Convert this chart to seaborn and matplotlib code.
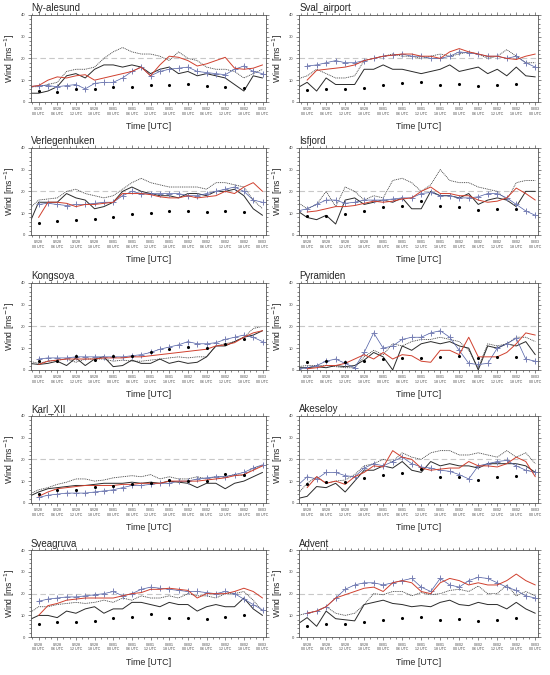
import numpy as np
import matplotlib
matplotlib.use("Agg")
import matplotlib.pyplot as plt
from matplotlib.ticker import MultipleLocator
import seaborn as sns

nan = np.nan

# hours since 02/28 00 UTC
hours = np.arange(-3, 73, 3)
obs_hours = np.arange(0, 67, 6)
tick_hours = np.arange(0, 73, 6)
tick_labels = ['02/28\n00 UTC', '02/28\n06 UTC', '02/28\n12 UTC', '02/28\n18 UTC',
               '03/01\n00 UTC', '03/01\n06 UTC', '03/01\n12 UTC', '03/01\n18 UTC',
               '03/02\n00 UTC', '03/02\n06 UTC', '03/02\n12 UTC', '03/02\n18 UTC',
               '03/03\n00 UTC']

# run1 = black solid, run2 = black dotted, run3 = red, run4 = blue crosses, obs = dots
ny_run1 = [4, 4, 5, 7, 12, 13, 11, 15, 17, 17, 16, 17, 16, 13, 15, 16, 13, 14, 12, 13, 12, 11, 8, 5, 12, 11]
ny_run2 = [7, 7, 8, 9, 14, 15, 15, 16, 20, 23, 25, 23, 22, 22, 21, 19, 23, 20, 19, 16, 15, 15, 14, 11, 13, 15]
ny_run3 = [7, 7.5, 10, 11.5, 11, 12, 12.5, 10, 11, 12, 13, 14, 16, 12, 17, 21, 20.5, 19, 16.5, 17.5, 19, 20.5, 15.5, 15, 15.5, 17]
ny_run4 = [7, 7.5, 7.5, 7, 7.5, 8, 6, 8.5, 9, 9, 11, 14, 16, 12, 14, 15, 15.5, 16, 14, 13.5, 13, 12.5, 15, 16.5, 14, 13]
ny_obs = [4.9, 4.4, 5.9, 5.9, 6.8, 6.8, 7.9, 7.9, 8.2, 7.1, 6.7, 6.4]

sv_run1 = [6.5, 9, 5, 11, 8, 8, 8, 15, 15, 17, 15, 15, 14, 13, 14, 15, 17, 14, 15, 16, 13, 15, 12, 16, 12, 11.5]
sv_run2 = [10.5, 12, 15, 13, 11, 11, 12, 19, 20, 21, 22, 21, 21, 20, 21, 22, 21, 22, 23, 22, 20, 21, 24, 21, 18, 18]
sv_run3 = [nan, 10, 14.5, 15, 15.5, 16, 17, 19, 20, 21, 21.5, 22, 22, 21, 21, 20, 23, 24.5, 23, 22, 21, 21, 20, 19.5, 21, 22]
sv_run4 = [nan, 16.5, 17, 18, 19, 18, 18, 19, 20, 21, 21.5, 22, 21, 21, 20, 20, 21, 23, 22.5, 22, 21, 21, 20, 21, 18, 16]
sv_obs = [5.4, 6, 6, 6.6, 7.7, 8.6, 9.3, 7.8, 8.1, 7.2, 7.8, 8.4]

vh_run1 = [5, 15, 15, 15, 19, 17, 16, 12, 13, 15, 20, 22, 20, 19, 18, 18, 17, 19, 19, 18, 20, 20, 21, 18, 12, 9]
vh_run2 = [12, 16, 16.5, 17, 20, 21, 19, 18, 17, 18, 21, 24, 26, 24, 23, 22, 22, 22, 22, 21, 24, 24, 23, 22, 16, 12]
vh_run3 = [nan, 8, 15, 15, 14.5, 13, 14, 14, 14.5, 15, 19, 19, 19, 18.5, 17.5, 17, 17, 18, 17, 17.5, 18, 20, 19, 22, 24, 20]
vh_run4 = [nan, 14, 14.5, 14, 13.5, 14, 14, 14.5, 15, 15, 18, 20, 19, 19, 19, 19, 19, 18, 18, 19, 20, 21, 22, 20, 16, 15]
vh_obs = [5.4, 6.2, 6.8, 7.4, 8.3, 9.7, 10, 10.8, 10.8, 10.6, 10.9, 10.6]

is_run1 = [11, 8, 7, 9, 5, 16, 17, 14, 15, 16, 15, 17, 12, 12, 20, 18, 18, 17, 19, 14, 16, 17, 16, 13, 20, 20]
is_run2 = [15, 12, 14, 20, 13, 22, 20, 16, 18, 17, 25, 26, 24, 20, 23, 30, 25, 24, 24, 22, 21, 20, 16, 24, 25, 25]
is_run3 = [nan, 10.5, 11, 12, 13, 13, 13.5, 14.5, 15.5, 15, 15.5, 16.5, 17, 20, 22, 19, 19, 18, 18, 16, 15, 15.5, 17, 21.5, 19, 16]
is_run4 = [11, 12, 14, 16, 16, 14.5, 15, 16, 16, 16, 16.5, 17, 17, 19, 19.5, 18, 18, 17, 17, 17.5, 19, 19, 17, 14, 11, 9]
is_obs = [8.5, 8.8, 9.8, 10.8, 12.6, 13.4, 15.4, 13.1, 12.8, 11.5, 12, 12]

ko_run1 = [3, 2.5, 3, 4, 2, 5.5, 2, 5, 6, 1.5, 2, 4.5, 3, 3, 5, 3, 4, 3, 3.5, 6, 11, 11, 13, 15, 16, 18]
ko_run2 = [4, 3, 4, 4.5, 5, 3.5, 5, 5, 5, 4, 4.5, 4, 4, 4.5, 5, 5.5, 6, 5.5, 6, 6, 11, 12, 13, 15, 19, 20]
ko_run3 = [nan, 2.5, 4, 4.5, 5, 5, 5, 5, 5.5, 5.5, 5.5, 6, 6, 6.5, 7, 7.5, 8, 8.5, 9, 9.5, 11, 11.5, 12.5, 15, 17, 18]
ko_run4 = [nan, 5, 5.5, 5.5, 5.5, 6, 6, 6, 6, 6, 6, 6.5, 7, 8, 9.5, 10.5, 11.5, 13, 12, 12, 12.5, 14, 15, 16, 15, 13]
ko_obs = [4.2, 4.3, 6.2, 4.6, 6.5, 6.3, 8.2, 9.7, 10.5, 10.2, 12, 14]

py_run1 = [1, 1, 1.5, 1, 2, 1.5, 2, 4.5, 8, 6, 0, 11, 9, 12, 13, 12, 13, 11, 10, 0, 11, 10, 12, 11, 13, 7]
py_run2 = [1.5, 2, 2, 2, 1.5, 1, 1, 6, 9, 7, 12, 11, 13, 14, 14, 15, 14, 13, 9, 1, 12, 11, 12, 15, 15, 13]
py_run3 = [nan, 0.5, 1, 2, 2, 3, 5, 7, 5, 8, 5, 7, 6.5, 4, 3.5, 9, 9, 7, 15, 6, 6, 6, 8, 12, 17, 16]
py_run4 = [0.5, 1, 2, 4, 5, 3, 1, 8, 17, 10, 11, 14, 15, 15, 17, 18, 15, 9, 3, 2.5, 3, 10, 12, 14.5, 5, 4]
py_obs = [3.5, 4, 3.7, 4.3, 4.8, 5.5, 5.5, 6, 6.5, 5.4, 5.7, 6]

ka_run1 = [3, 5, 6.5, 7, 7.5, 8, 8, 8.5, 9, 9, 9, 9.5, 9, 9.5, 9, 10, 9.5, 9, 7, 9, 9, 6.5, 9, 10, 12, 14]
ka_run2 = [4, 6, 7, 8.5, 9.5, 11, 11, 10, 10.5, 11.5, 12, 12.5, 12, 13, 11, 12, 11, 11, 12, 11, 12, 12, 13, 12.5, 16, 17]
ka_run3 = [nan, 3, 5, 6.5, 7, 7.5, 8, 8, 8, 8, 8.5, 8.5, 9, 9, 9, 10, 10, 10, 10, 10.5, 11, 11.5, 12.5, 13, 15, 17]
ka_run4 = [nan, 2.5, 3.5, 4, 4.5, 4.5, 4.5, 5, 5.5, 6, 7, 8, 8, 8.5, 9, 9, 10, 10, 11, 11.5, 12, 12, 13, 14, 16, 17.5]
ka_obs = [4.3, 6, 6.1, 7.4, 7.7, 8.9, 9.3, 10.4, 10, 10.1, 13.3, 12.6]

ak_run1 = [2, 3, 7.5, 7, 9, 5, 10, 15, 15, 17, 16, 19, 15, 14, 19, 17, 18, 17, 17, 16, 18, 18, 18, 18, 17, 14]
ak_run2 = [4, 9, 12, 9, 10, 10.5, 13, 17, 18, 20, 19, 23, 21, 20, 23, 24, 24, 22, 22, 23, 22, 21, 24, 21, 23, 18]
ak_run3 = [nan, 7, 12, 9, 10, 8.5, 12, 14, 17, 16.5, 24, 21, 20, 16, 15, 15.5, 16, 16, 19, 17, 17, 16.5, 18, 21, 19, 12]
ak_run4 = [8, 12, 11, 14, 14, 12.5, 12, 16, 18, 17, 19, 21, 18, 16.5, 16, 15, 14.5, 13, 11, 17, 18, 19, 19.5, 17, 15, 14]
ak_obs = [8.9, 9.7, 9.8, 11.3, 13, 13.8, 15.6, 12.1, 11.8, 10.7, 12.1, 12.3]

sg_run1 = [8, 10, 10, 9, 12, 11, 13, 14, 11, 13, 13, 16, 16, 15, 14, 16, 15, 15, 12, 14, 15, 14, 14, 18, 13, 10]
sg_run2 = [11, 14, 14, 15, 15.5, 16, 15.5, 16, 17, 16, 18, 17, 19, 18, 18, 19, 18, 20, 19, 19, 18, 20, 20, 21, 17, 12]
sg_run3 = [nan, 10, 14.5, 15.5, 17, 17.5, 18, 18, 18, 18, 19, 20, 20.5, 22, 22, 22.5, 22, 21.5, 18, 20, 20, 20, 21, 22.5, 21, 18]
sg_run4 = [nan, 16.5, 17.5, 18, 18.5, 18.5, 19, 19.5, 20, 21, 19, 20, 22, 23, 22.5, 22, 21.5, 21, 21, 20.5, 20, 21, 20, 17.5, 15, 12.5]
sg_obs = [6, 6.8, 6.8, 7.4, 8.8, 9.5, 10.5, 8.9, 8.6, 8.2, 9.4, 10]

ad_run1 = [6, 9, 5, 12, 8.5, 8, 7.5, 15, 16, 17, 15.5, 15, 14, 14.5, 14, 16, 17, 15, 14.5, 16, 15, 15, 13, 16, 13, 11]
ad_run2 = [10, 11, 12, 14, 11, 10, 11, 15, 20, 19.5, 21, 21, 19, 20.5, 19.5, 20, 21.5, 22, 21, 23.5, 20, 20, 24, 19, 21, 19]
ad_run3 = [nan, 11, 12, 14, 18, 19.5, 21, 22.5, 23, 21, 25, 26, 25, 21, 20, 25, 27, 26, 24, 25, 24, 24, 26, 29, 26, 24]
ad_run4 = [nan, 11, 12, 14, 18, 22, 24, 25, 25, 24, 25, 26, 27, 23, 21, 27, 24, 23, 26, 27.5, 27, 25, 23, 21.5, 19, 18]
ad_obs = [5.2, 6, 6, 6.9, 7.8, 8.6, 9.2, 8, 8.2, 7.5, 8, 8.6]

stations = [
    ('Ny-alesund', ny_run1, ny_run2, ny_run3, ny_run4, ny_obs),
    ('Sval_airport', sv_run1, sv_run2, sv_run3, sv_run4, sv_obs),
    ('Verlegenhuken', vh_run1, vh_run2, vh_run3, vh_run4, vh_obs),
    ('Isfjord', is_run1, is_run2, is_run3, is_run4, is_obs),
    ('Kongsoya', ko_run1, ko_run2, ko_run3, ko_run4, ko_obs),
    ('Pyramiden', py_run1, py_run2, py_run3, py_run4, py_obs),
    ('Karl_XII', ka_run1, ka_run2, ka_run3, ka_run4, ka_obs),
    ('Akeseloy', ak_run1, ak_run2, ak_run3, ak_run4, ak_obs),
    ('Sveagruva', sg_run1, sg_run2, sg_run3, sg_run4, sg_obs),
    ('Advent', ad_run1, ad_run2, ad_run3, ad_run4, ad_obs),
]

sns.set_theme(style='ticks')
plt.rcParams['font.family'] = ['Liberation Sans', 'DejaVu Sans']

fig = plt.figure(figsize=(5.5, 6.75), dpi=100)

col_left = [0.056, 0.544]
col_width = [0.427, 0.435]
row_bottom = [0.849, 0.652, 0.452, 0.255, 0.056]
height = 0.129

for i, (name, r1, r2, r3, r4, obs) in enumerate(stations):
    row, col = divmod(i, 2)
    ax = fig.add_axes([col_left[col], row_bottom[row], col_width[col], height])

    ax.axhline(20, color='#c8c8c8', lw=0.8, dashes=(5, 3), zorder=0)
    sns.lineplot(x=hours, y=r2, ax=ax, color='#3a3a3a', lw=0.6,
                 dashes=False, linestyle=(0, (1.2, 1.0)), estimator=None)
    sns.lineplot(x=hours, y=r1, ax=ax, color='#2a2a2a', lw=0.7, estimator=None)
    sns.lineplot(x=hours, y=r4, ax=ax, color='#4c5ca4', lw=0.5, estimator=None,
                 marker='+', markersize=5, markeredgewidth=0.7,
                 markeredgecolor='#7880b4')
    sns.lineplot(x=hours, y=r3, ax=ax, color='#d0402e', lw=0.7, estimator=None)
    sns.scatterplot(x=obs_hours, y=obs, ax=ax, color='black', s=5,
                    linewidth=0, zorder=5)

    ax.set_xlim(-2.5, 73)
    ax.set_ylim(0, 40)
    ax.set_yticks([0, 10, 20, 30, 40])
    ax.yaxis.set_minor_locator(MultipleLocator(2))
    ax.set_xticks(tick_hours)
    ax.set_xticklabels(tick_labels)
    ax.xaxis.set_minor_locator(MultipleLocator(2))
    ax.tick_params(which='both', direction='out', top=True, right=True,
                   width=0.5, colors='#555555', labelcolor='#444444')
    ax.tick_params(which='major', length=2.5, pad=1.5)
    ax.tick_params(which='minor', length=1.2)
    ax.tick_params(axis='x', labelsize=2.6)
    ax.tick_params(axis='y', labelsize=3.0)
    for sp in ax.spines.values():
        sp.set_linewidth(0.6)
        sp.set_color('#555555')

    ax.set_title(name, loc='left', fontsize=7, pad=2.5)
    ax.set_ylabel('Wind [ms$^{-1}$]', fontsize=6.2, labelpad=3)
    ax.set_xlabel('Time [UTC]', fontsize=6.4, labelpad=4.5)

fig.savefig('out.png', dpi=100)
